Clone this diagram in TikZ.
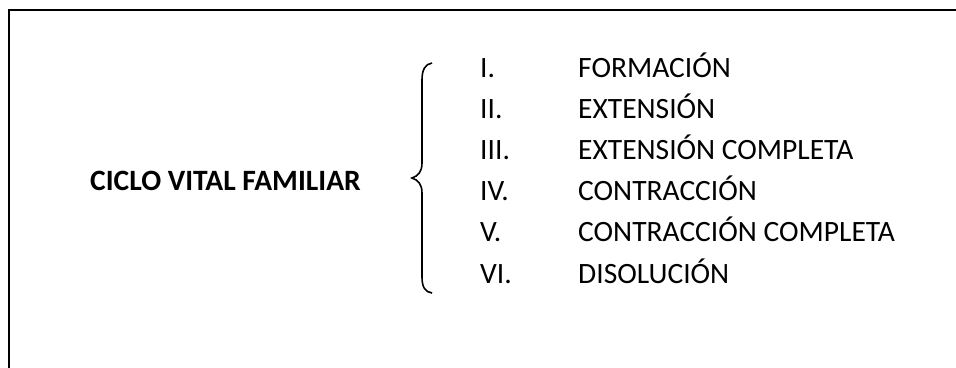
\documentclass[tikz,border=0pt]{standalone}
\usepackage{fontspec}
\setmainfont{Carlito}
\begin{document}
\begin{tikzpicture}[x=1pt,y=-1pt,
  item/.style={anchor=base west,inner sep=0pt,font=\fontsize{29.5}{35}\selectfont},
  ttl/.style={anchor=base west,inner sep=0pt,font=\fontsize{29.5}{35}\selectfont\bfseries},
  frame/.style={line width=2pt,line cap=rect},
  brace/.style={line width=1.6pt}]
\useasboundingbox (0,0) rectangle (956,367);
\draw[frame] (956,10) -- (9,10) -- (9,368);
\node[ttl] (title) at (90,190) {CICLO VITAL FAMILIAR};
\draw[brace] (432,63) .. controls (425,64) and (422,70) .. (422,80) -- (422,163)
  .. controls (422,172) and (418,176) .. (412,178)
  .. controls (418,180) and (422,184) .. (422,193) -- (422,277)
  .. controls (422,287) and (425,292) .. (432,293);
\foreach \n/\r/\t [count=\k from 0] in {a/I./FORMACIÓN,b/II./EXTENSIÓN,c/III./EXTENSIÓN COMPLETA,d/IV./CONTRACCIÓN,e/V./CONTRACCIÓN COMPLETA,f/VI./DISOLUCIÓN}{
  \node[item] (num\n) at (480,77+41.2*\k) {\r};
  \node[item] (txt\n) at (578,77+41.2*\k) {\t};
}
\end{tikzpicture}
\end{document}
